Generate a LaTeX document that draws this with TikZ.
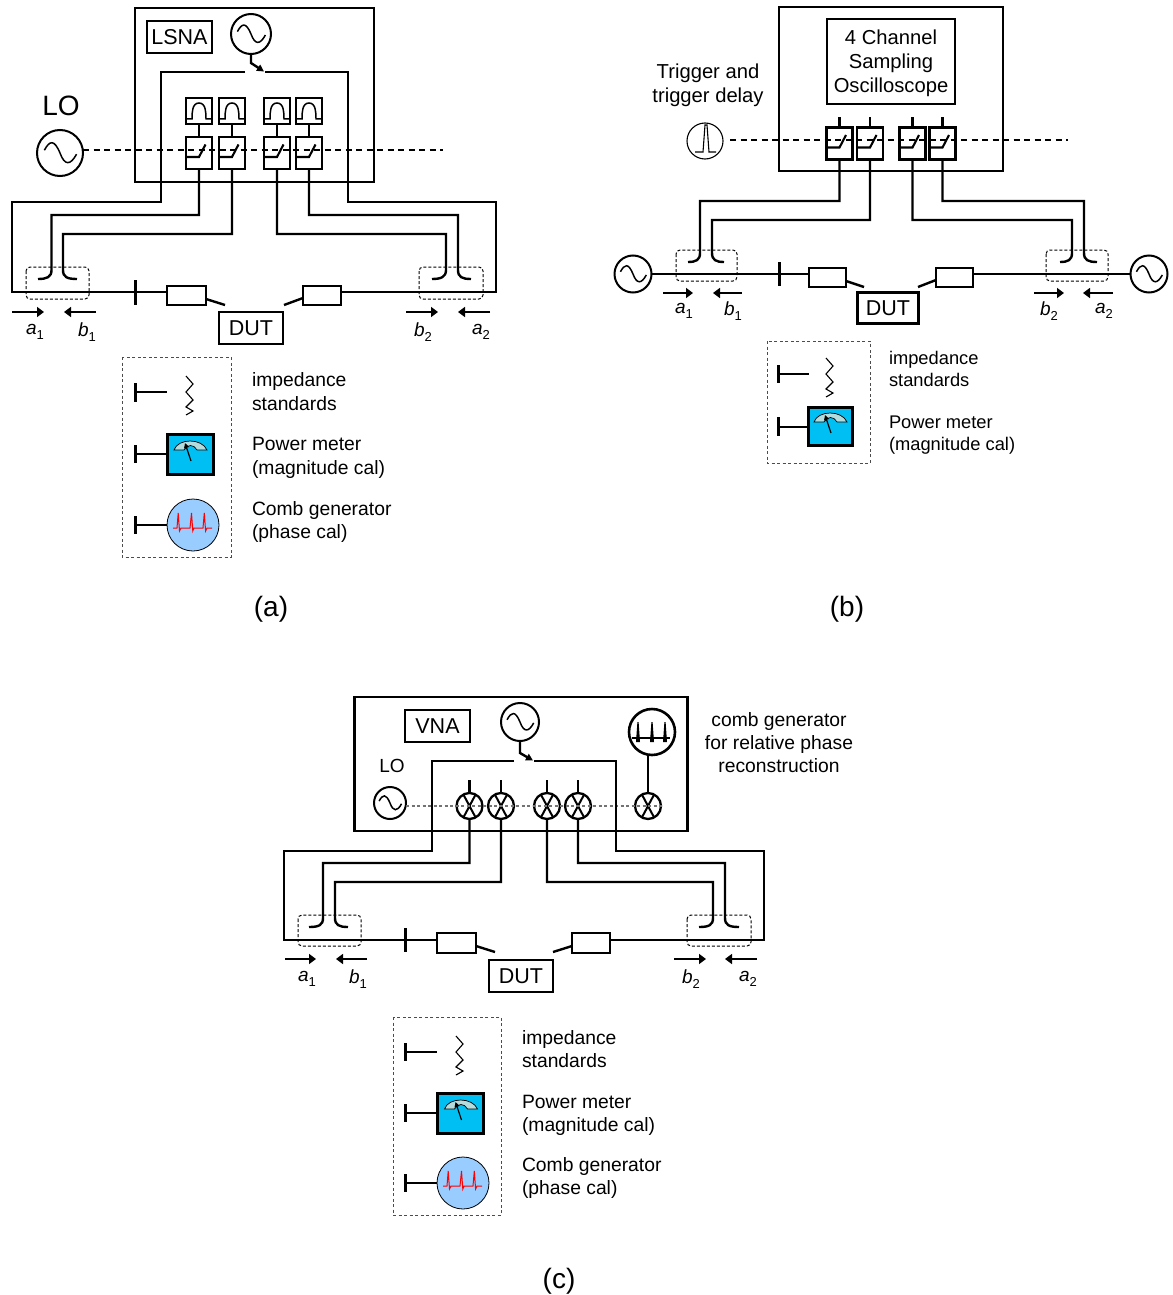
\documentclass[tikz,border=0pt]{standalone}
\usepackage{fontspec}
\setmainfont{Liberation Sans}
\usetikzlibrary{arrows.meta}
\newcommand{\fsz}[1]{\fontsize{#1}{#1}\selectfont}
\newcommand{\lab}[2]{{\fsz{19}\itshape #1}\raisebox{-4.5pt}{\fsz{13}#2}}
\tikzset{
  x=1pt,y=-1pt,
  wire/.style={line width=2.4pt,line join=miter},
  outerbox/.style={draw,line width=2.4pt,inner sep=0,outer sep=0,rectangle},
  sampbox/.style={draw,line width=2.6pt,inner sep=0,outer sep=0,rectangle,minimum width=26pt,minimum height=32pt},
  filtbox/.style={draw,line width=1.5pt,inner sep=0,outer sep=0,rectangle,minimum width=26pt,minimum height=26pt},
  isobox/.style={draw,line width=2.4pt,inner sep=0,outer sep=0,rectangle},
  labelbox/.style={draw,line width=2.4pt,inner sep=0,outer sep=0,rectangle,font=\fsz{21.5}},
  srcircle/.style={draw,circle,line width=2pt,inner sep=0,outer sep=0,fill=white},
  cplbox/.style={draw,line width=1pt,dash pattern=on 3pt off 2pt,rounded corners=4pt},
  legbox/.style={draw,line width=1pt,dash pattern=on 3pt off 2.5pt,black!70},
  lotrace/.style={line width=1.5pt,dash pattern=on 6pt off 4.5pt},
  tickline/.style={line width=3pt},
  legwire/.style={line width=2.8pt},
  wave/.style={arrows={-{Triangle[length=7pt,width=10pt]}},line width=1.5pt},
  txt/.style={inner sep=0,outer sep=0,font=\fsz{20.2},anchor=base,align=center},
  txtc/.style={inner sep=0,outer sep=0,font=\fsz{19.3},anchor=base,align=center},
  ltxt/.style={inner sep=0,outer sep=0,font=\fsz{19.3},anchor=base west},
  ltxtb/.style={inner sep=0,outer sep=0,font=\fsz{18.3},anchor=base west},
  captxt/.style={inner sep=0,outer sep=0,font=\fsz{28}},
  sublab/.style={inner sep=0,outer sep=0},
}
% sampler with switch glyph
\newcommand{\sampler}[3]{%
  \node[sampbox] (#1) at (#2,#3) {};
  \begin{scope}[shift={(#2,#3)}]
    \draw[line width=2.1pt] (-13,4) -- (0,4) -- (6.5,-8.5);
  \end{scope}}
% filter with bump glyph
\newcommand{\filt}[3]{%
  \node[filtbox] (#1) at (#2,#3) {};
  \begin{scope}[shift={(#2,#3)}]
    \draw[line width=1.5pt] (-13,8) -- (-7,8) .. controls (-7,2) and (-7,-8) .. (0,-8) .. controls (7,-8) and (7,2) .. (7,8) -- (13,8);
  \end{scope}}
% source circle with sine
\newcommand{\sinesrc}[4]{%
  \node[srcircle,minimum size=#4pt*2] (#1) at (#2,#3) {};
  \begin{scope}[shift={(#2,#3)},scale=#4]
    \draw[line width=1.5pt] (-.68,-.12) .. controls (-.45,-.55) and (-.25,-.6) .. (0,0) .. controls (.2,.55) and (.45,.55) .. (.72,.05);
  \end{scope}}
% mixer
\newcommand{\mixer}[3]{%
  \node[draw,circle,line width=2.3pt,inner sep=0,outer sep=0,minimum size=26pt] (#1) at (#2,#3) {};
  \draw[line width=2pt] (#1.62) -- (#1.242) (#1.118) -- (#1.298);}
% zigzag load
\newcommand{\zig}[2]{%
  \begin{scope}[shift={(#1,#2)}]
    \draw[line width=1.1pt] (0,0) -- (7,8) -- (0,16) -- (7,24) -- (0,31) -- (7,35) -- (0,39);
  \end{scope}}
% power meter, centred at x,y
\newcommand{\pmeter}[5]{%
  \node[draw,line width=3pt,fill=meterblue,inner sep=0,outer sep=0,minimum width=#4pt,minimum height=#5pt] (#1) at (#2,#3) {};
  \begin{scope}[shift={(#2,#3)}]
    \draw[line width=.7pt,fill=metergauge] (-16,-4) .. controls (-12,-16) and (12,-16) .. (17,-4) -- (7,-4) .. controls (4,-10) and (-3,-10) .. (-6,-4) -- cycle;
    \draw[line width=1.2pt,-{Triangle[length=5pt,width=5pt]}] (1,7) -- (-5,-11);
  \end{scope}}
% comb generator for calibration
\newcommand{\combcal}[3]{%
  \node[draw,circle,line width=.8pt,fill=combblue,inner sep=0,outer sep=0,minimum size=52pt] (#1) at (#2,#3) {};
  \begin{scope}[shift={(#2,#3)}]
    \draw[red,line width=1pt] (-20,3) -- (-16,3) -- (-14.8,-12) -- (-13.5,6) -- (-12,3) -- (-3,3) -- (-1.5,-12) -- (-.2,6) -- (1,3) -- (10,3) -- (11.3,-12) -- (12.6,6) -- (14,3) -- (19,3);
  \end{scope}}
\definecolor{meterblue}{HTML}{00BFF3}
\definecolor{metergauge}{HTML}{B5DCDC}
\definecolor{combblue}{HTML}{99CCFF}
\begin{document}
\begin{tikzpicture}
\useasboundingbox (0,0) rectangle (1172,1295);
\fill[white] (0,0) rectangle (1172,1295);

%%%%%%%%%%%% panel (a)
\node[outerbox,minimum width=239pt,minimum height=174pt] (lsna) at (254.5,95) {};
\node[labelbox,minimum width=65pt,minimum height=32pt] (lsnalab) at (179.5,37) {LSNA};
\sinesrc{asrc}{251}{34}{20}
\coordinate (aswl) at (245,72);
\coordinate (aswr) at (265,72);
\coordinate (akink) at (251,63);
\draw[wire,arrows={-{Triangle[length=7pt,width=7pt]}}] (asrc.south) -- (akink) -- (264,71.5);
\filt{afa}{199}{111}\filt{afb}{232}{111}\filt{afc}{277}{111}\filt{afd}{309}{111}
\sampler{asa}{199}{153}\sampler{asb}{232}{153}\sampler{asc}{277}{153}\sampler{asd}{309}{153}
\foreach \n in {a,b,c,d}{\draw[wire] (af\n.south) -- (as\n.north);}
\node[captxt] (alo) at (61,106) {LO};
\sinesrc{alosrc}{60}{153}{23}
\coordinate (aloend) at (443,150);
\draw[lotrace] (alosrc.east |- aloend) -- (aloend);
\node[isobox,minimum width=39pt,minimum height=19pt] (aisol) at (186.5,295.5) {};
\node[isobox,minimum width=38pt,minimum height=19pt] (aisor) at (322,295.5) {};
\node[labelbox,minimum width=64pt,minimum height=32pt] (adut) at (251,328) {DUT};
\coordinate (atick) at (135,292);
\draw[tickline] (135,280) -- (135,305);
\draw[wire] (aswl) -- (161,72) -- (161,202) -- (12,202) -- (12,292) -- (atick) -- (aisol.west |- atick);
\draw[wire] (aswr) -- (348,72) -- (348,202) -- (496,202) -- (496,292) -- (aisor.east |- atick);
\draw[wire] (206,299) -- (225,305);
\draw[wire] (284,305) -- (303,298);
\draw[wire] (asa.south) -- (199,215) -- (51.5,215) -- (51.5,270) .. controls (51.5,277) and (47,279) .. (38,279);
\draw[wire] (asb.south) -- (232,234) -- (63,234) -- (63,270) .. controls (63,277) and (67,279) .. (77,279);
\draw[wire] (asc.south) -- (277,234) -- (446,234) -- (446,270) .. controls (446,277) and (441,279) .. (432,279);
\draw[wire] (asd.south) -- (309,215) -- (458,215) -- (458,270) .. controls (458,277) and (462,279) .. (471,279);
\draw[cplbox] (26,267) rectangle (89,299);
\draw[cplbox] (419,267) rectangle (483,299);
\draw[wave] (12,312) -- (44,312);
\draw[wave] (96,312) -- (64,312);
\draw[wave] (406,312) -- (438,312);
\draw[wave] (490,312) -- (458,312);
\node[sublab] (aa1) at (35,332) {\lab{a}{1}};
\node[sublab] (ab1) at (87,332) {\lab{b}{1}};
\node[sublab] (ab2) at (423,332) {\lab{b}{2}};
\node[sublab] (aa2) at (481,332) {\lab{a}{2}};
% legend a
\draw[legbox] (122,357) rectangle (231,557);
\draw[tickline] (135,383) -- (135,402);
\draw[legwire] (135,392) -- (167,392);
\zig{186}{376}
\pmeter{apm}{190}{454}{46}{40}
\draw[tickline] (135,445) -- (135,463);
\draw[legwire] (135,454) -- (apm.west);
\combcal{acg}{193}{525}
\draw[tickline] (135,516) -- (135,534);
\draw[legwire] (135,525) -- (acg.west);
\node[ltxt] (at1) at (252,386) {impedance};
\node[ltxt] (at2) at (252,410) {standards};
\node[ltxt] (at3) at (252,450) {Power meter};
\node[ltxt] (at4) at (252,474) {(magnitude cal)};
\node[ltxt] (at5) at (252,515) {Comb generator};
\node[ltxt] (at6) at (252,538) {(phase cal)};
\node[captxt] (acap) at (271,609) {(a)};

%%%%%%%%%%%% panel (b)
\node[outerbox,minimum width=224pt,minimum height=164pt] (scope) at (891,89) {};
\node[draw,line width=2.4pt,inner sep=0,outer sep=0,rectangle,minimum width=128pt,minimum height=85pt] (scopelab) at (891,61.5) {};
\node[txt] (bt1) at (891,45) {4 Channel};
\node[txt] (bt2) at (891,69) {Sampling};
\node[txt] (bt3) at (891,93) {Oscilloscope};
\node[txt] (bt4) at (708,79) {Trigger and};
\node[txt] (bt5) at (708,103) {trigger delay};
\sampler{bsa}{839.5}{143.5}\sampler{bsb}{870}{143.5}\sampler{bsc}{912.5}{143.5}\sampler{bsd}{942.5}{143.5}
\foreach \n/\x in {a/839.5,b/870,c/912.5,d/942.5}{\draw[wire] (bs\n.north) -- (\x,117);}
\node[srcircle,line width=1.1pt,minimum size=36pt] (btrig) at (705,141) {};
\draw[line width=1.1pt] (695,152) -- (703,152) -- (705,125) -- (707,125) -- (709,152) -- (716,152);
\coordinate (bloend) at (1068,140);
\coordinate (blostart) at (730,140);
\draw[lotrace] (blostart) -- (bloend);
\sinesrc{bsrcl}{633}{274}{18.5}
\sinesrc{bsrcr}{1149}{274}{18.5}
\node[isobox,minimum width=37pt,minimum height=19pt] (bisol) at (827.5,277.5) {};
\node[isobox,minimum width=37pt,minimum height=19pt] (bisor) at (954.5,277.5) {};
\node[labelbox,minimum width=61pt,minimum height=31pt] (bdut) at (888,308) {DUT};
\coordinate (btick) at (779,274);
\draw[tickline] (779,262) -- (779,286);
\draw[wire] (bsrcl.east) -- (btick) -- (bisol.west |- btick);
\draw[wire] (bisor.east |- btick) -- (bsrcr.west);
\draw[wire] (846,281) -- (864,287);
\draw[wire] (918,287) -- (936,280);
\draw[wire] (bsa.south) -- (839.5,201) -- (700,201) -- (700,253) .. controls (700,260) and (696,262) .. (688,262);
\draw[wire] (bsb.south) -- (870,220) -- (712,220) -- (712,253) .. controls (712,260) and (716,262) .. (724,262);
\draw[wire] (bsc.south) -- (912.5,220) -- (1072,220) -- (1072,253) .. controls (1072,260) and (1068,262) .. (1060,262);
\draw[wire] (bsd.south) -- (942.5,201) -- (1084,201) -- (1084,253) .. controls (1084,260) and (1088,262) .. (1097,262);
\draw[cplbox] (676,250) rectangle (737,281);
\draw[cplbox] (1046,250) rectangle (1108,281);
\draw[wave] (663,293) -- (693,293);
\draw[wave] (742,293) -- (713,293);
\draw[wave] (1034,293) -- (1064,293);
\draw[wave] (1113,293) -- (1083,293);
\node[sublab] (ba1) at (684,311) {\lab{a}{1}};
\node[sublab] (bb1) at (733,311) {\lab{b}{1}};
\node[sublab] (bb2) at (1049,311) {\lab{b}{2}};
\node[sublab] (ba2) at (1104,311) {\lab{a}{2}};
% legend b
\draw[legbox] (767,341) rectangle (870,463);
\draw[tickline] (778,365) -- (778,383);
\draw[legwire] (778,374) -- (809,374);
\zig{826}{358}
\pmeter{bpm}{830}{426}{44}{38}
\coordinate (bpmtick) at (778,427);
\draw[tickline] (778,417) -- (778,436);
\draw[legwire] (bpmtick) -- (bpm.west |- bpmtick);
\node[ltxtb] (bl1) at (889,364) {impedance};
\node[ltxtb] (bl2) at (889,386) {standards};
\node[ltxtb] (bl3) at (889,428) {Power meter};
\node[ltxtb] (bl4) at (889,450) {(magnitude cal)};
\node[captxt] (bcap) at (847,609) {(b)};

%%%%%%%%%%%% panel (c)
\node[outerbox,minimum width=333pt,minimum height=134pt] (vna) at (521,764) {};
\node[labelbox,minimum width=65pt,minimum height=32pt] (vnalab) at (437.5,726) {VNA};
\sinesrc{csrc}{520}{722}{19}
\coordinate (cswl) at (514,761);
\coordinate (cswr) at (534,761);
\coordinate (ckink) at (520,753);
\draw[wire,arrows={-{Triangle[length=7pt,width=7pt]}}] (csrc.south) -- (ckink) -- (533,760.5);
\node[inner sep=0,outer sep=0,font=\fsz{19}] (clo) at (392,766) {LO};
\sinesrc{closrc}{390}{803}{16}
\mixer{cma}{469.5}{806}\mixer{cmb}{501}{806}\mixer{cmc}{547}{806}\mixer{cmd}{578}{806}\mixer{cme}{648}{806}
\foreach \n/\x in {a/469.5,b/501,c/547,d/578}{\draw[wire] (cm\n.north) -- (\x,780);}
\coordinate (cloend) at (662,806);
\draw[line width=1.3pt,dash pattern=on 3pt off 2.5pt,black!55] (closrc.east |- cloend) -- (cloend);
\node[srcircle,line width=2.6pt,minimum size=46pt] (ccomb) at (652,732) {};
\draw[wire] (648,755) -- (cme.north);
\draw[line width=2.4pt] (632,738) -- (670,738);
\fill (636,742) -- (637.4,722) -- (638.6,722) -- (640,742) -- cycle
      (650,742) -- (651.4,722) -- (652.6,722) -- (654,742) -- cycle
      (663,742) -- (664.4,722) -- (665.6,722) -- (667,742) -- cycle;
\node[txtc] (ct1) at (779,726) {comb generator};
\node[txtc] (ct2) at (779,749) {for relative phase};
\node[txtc] (ct3) at (779,772) {reconstruction};
\node[isobox,minimum width=39pt,minimum height=20pt] (cisol) at (456.5,943) {};
\node[isobox,minimum width=38pt,minimum height=20pt] (cisor) at (591,943) {};
\node[labelbox,minimum width=64pt,minimum height=32pt] (cdut) at (521,976) {DUT};
\coordinate (ctick) at (405,940);
\draw[tickline] (405,928) -- (405,952);
\draw[wire] (cswl) -- (432,761) -- (432,851) -- (284,851) -- (284,940) -- (ctick) -- (cisol.west |- ctick);
\draw[wire] (cswr) -- (616,761) -- (616,851) -- (764,851) -- (764,940) -- (cisor.east |- ctick);
\draw[wire] (476,946) -- (495,952);
\draw[wire] (553,952) -- (572,946);
\draw[wire] (cma.south) -- (469.5,863) -- (323,863) -- (323,918) .. controls (323,925) and (319,927) .. (309,927);
\draw[wire] (cmb.south) -- (501,882) -- (335,882) -- (335,918) .. controls (335,925) and (339,927) .. (348,927);
\draw[wire] (cmc.south) -- (547,882) -- (713,882) -- (713,918) .. controls (713,925) and (709,927) .. (699,927);
\draw[wire] (cmd.south) -- (578,863) -- (725,863) -- (725,918) .. controls (725,925) and (729,927) .. (739,927);
\draw[cplbox] (298,915) rectangle (361,946);
\draw[cplbox] (687,915) rectangle (751,946);
\draw[wave] (285,959) -- (316,959);
\draw[wave] (367,959) -- (336,959);
\draw[wave] (674,959) -- (706,959);
\draw[wave] (757,959) -- (725,959);
\node[sublab] (ca1) at (307,979) {\lab{a}{1}};
\node[sublab] (cb1) at (358,979) {\lab{b}{1}};
\node[sublab] (cb2) at (691,979) {\lab{b}{2}};
\node[sublab] (ca2) at (748,979) {\lab{a}{2}};
% legend c
\draw[legbox] (393,1017) rectangle (501,1215);
\draw[tickline] (405,1043) -- (405,1061);
\draw[legwire] (405,1052) -- (437,1052);
\zig{456}{1036}
\pmeter{cpm}{460.5}{1113}{46}{40}
\draw[tickline] (405,1104) -- (405,1122);
\draw[legwire] (405,1113) -- (cpm.west);
\combcal{ccg}{463}{1183}
\draw[tickline] (405,1174) -- (405,1192);
\draw[legwire] (405,1183) -- (ccg.west);
\node[ltxt] (cl1) at (522,1044) {impedance};
\node[ltxt] (cl2) at (522,1067) {standards};
\node[ltxt] (cl3) at (522,1108) {Power meter};
\node[ltxt] (cl4) at (522,1131) {(magnitude cal)};
\node[ltxt] (cl5) at (522,1171) {Comb generator};
\node[ltxt] (cl6) at (522,1194) {(phase cal)};
\node[captxt] (ccap) at (559,1281) {(c)};
\end{tikzpicture}
\end{document}
